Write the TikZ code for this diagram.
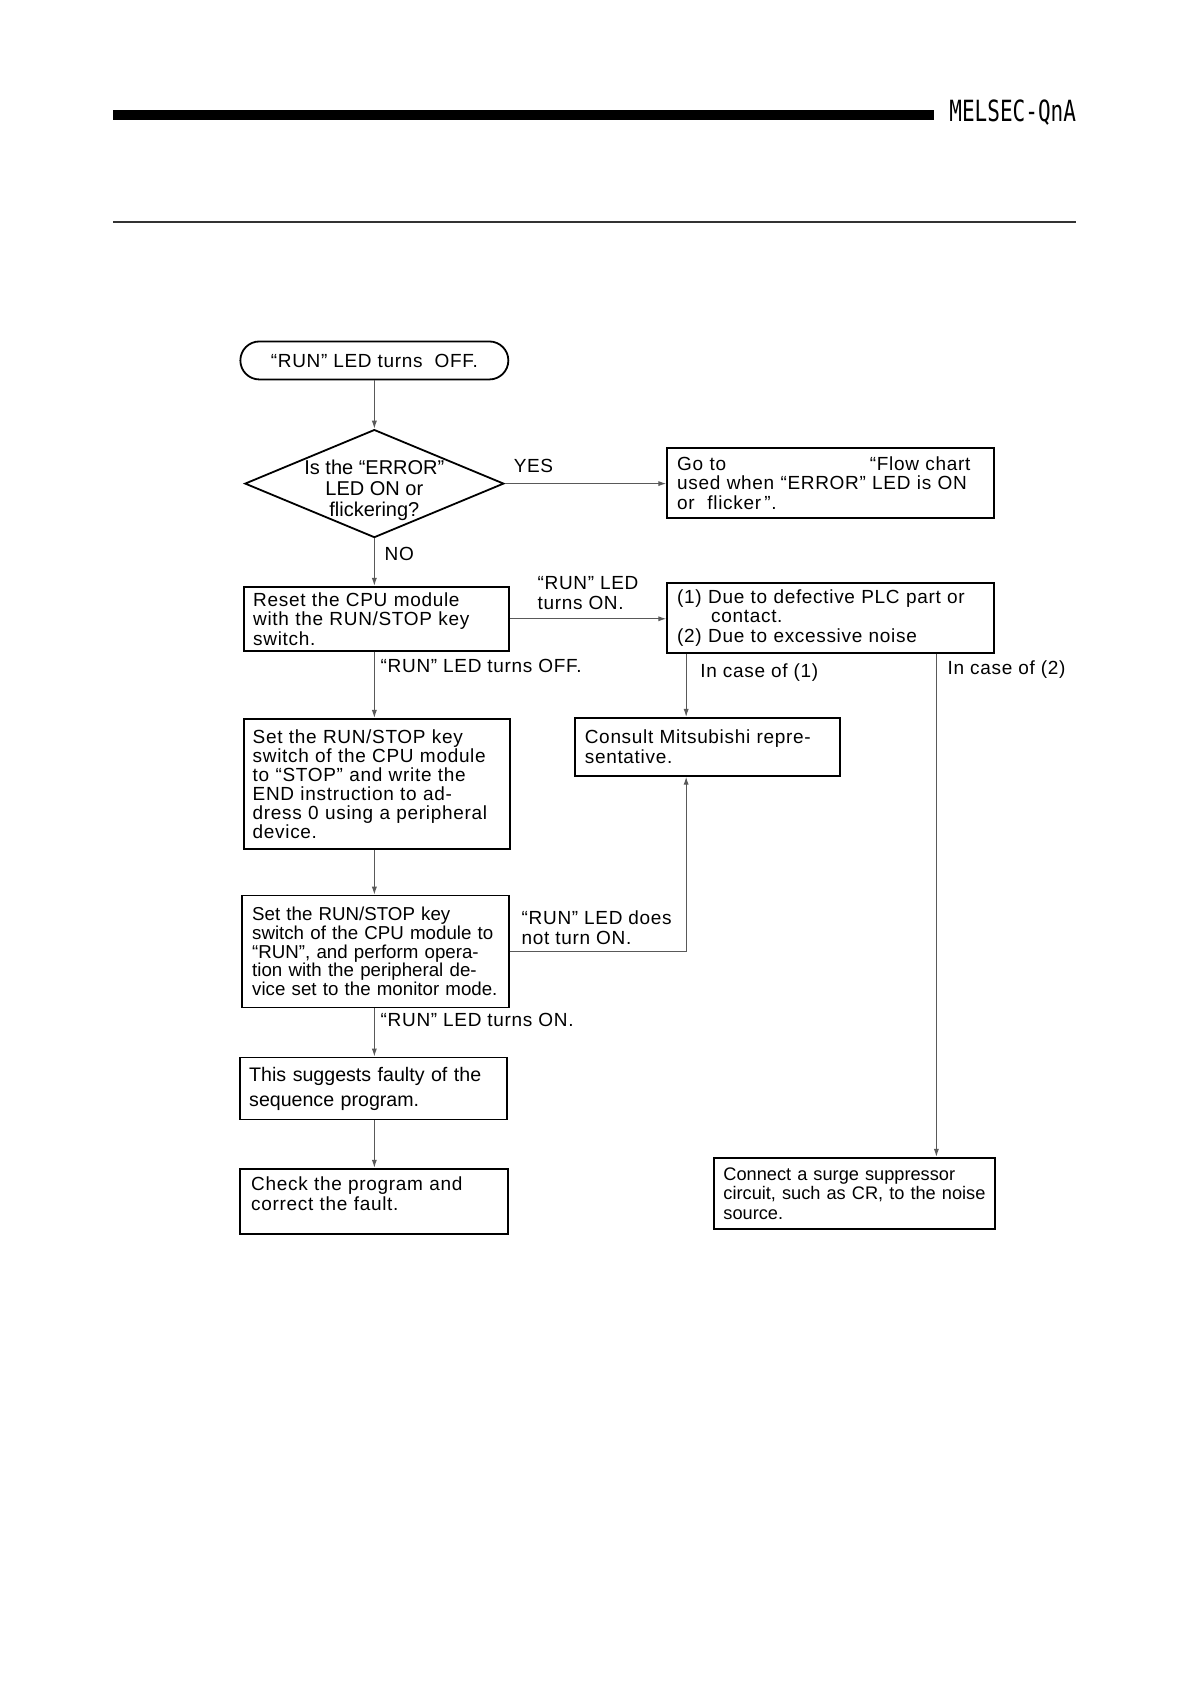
\documentclass[tikz,border=0pt]{standalone}
\usepackage{fontspec}
\setmainfont{Liberation Sans}
\newfontfamily\widefam[LetterSpace=3.6]{Liberation Sans}
\newfontfamily\hdrfam{DejaVu Sans Mono}
\usepackage{graphicx}
\usetikzlibrary{shapes.geometric,arrows.meta}
\newcommand{\wf}{\widefam\fontsize{9.5}{9.75}\selectfont}
\newcommand{\narrowf}[2]{\rmfamily\fontsize{#1}{#2}\selectfont}
\tikzset{
  box/.style={draw, line width=0.9pt, anchor=north west, align=left, inner ysep=0pt, inner xsep=4.5pt},
  conn/.style={draw=black!65, line width=0.55pt, -{Latex[length=4pt,width=2.6pt]}},
  lbl/.style={anchor=west, inner sep=0pt, align=left, font=\wf}
}
\begin{document}
\begin{tikzpicture}[x=0.4965pt,y=-0.4965pt]
\useasboundingbox (0,0) rectangle (1198.4,1695.9);
% header
\fill (114,111) rectangle (941,121);
\draw[line width=1pt, black!80] (114,224) -- (1084,224);
\node[anchor=base east, inner sep=0pt] (hdr) at (1084,122) {\scalebox{0.72}[1]{\hdrfam\fontsize{14.6}{15}\selectfont MELSEC-QnA}};
% nodes
\node[draw, line width=0.9pt, rounded corners=9.5pt, minimum width=134pt, minimum height=19pt, inner sep=0pt, font=\wf] (term) at (377,363) {“RUN” LED turns\ \ OFF.};
\node[diamond, draw, line width=0.9pt, minimum width=129.5pt, minimum height=54pt, inner sep=0pt] (dec) at (377,487)
  {\makebox[0pt]{\smash{\raisebox{-6.4pt}{\narrowf{10}{10.5}\begin{tabular}{@{}c@{}}Is the “ERROR”\\LED ON or\\flickering?\end{tabular}}}}};
\node[box, inner xsep=5pt, text width=153.5pt, minimum height=35pt, font=\wf] (goto) at (671,450)
  {Go to\hspace*{71.9pt}“Flow chart\\used when “ERROR” LED is ON\\or\ \ flicker\,”.};
\node[box, inner xsep=4.5pt, text width=123.5pt, minimum height=32pt, font=\wf] (reset) at (245,590)
  {Reset the CPU module\\with the RUN/STOP key\\switch.};
\node[box, inner xsep=5pt, text width=153.5pt, minimum height=35pt, font=\wf] (cause) at (671,586)
  {(1) Due to defective PLC part or\\\hspace*{17pt}contact.\\(2) Due to excessive noise};
\node[box, inner xsep=4.5pt, text width=124pt, minimum height=65pt, font={\widefam\fontsize{9.5}{9.5}\selectfont}] (setstop) at (244.5,723)
  {Set the RUN/STOP key\\switch of the CPU module\\to “STOP” and write the\\END instruction to ad-\\dress 0 using a peripheral\\device.};
\node[box, inner xsep=5pt, text width=122.5pt, minimum height=29pt, font=\wf] (consult) at (578,722)
  {Consult Mitsubishi repre-\\sentative.};
\node[box, inner xsep=5pt, text width=123.5pt, minimum height=56pt, font={\narrowf{9.35}{9.35}}] (setrun) at (243,901)
  {Set the RUN/STOP key\\switch of the CPU module to\\“RUN”, and perform opera-\\tion with the peripheral de-\\vice set to the monitor mode.};
\node[box, inner xsep=4.5pt, text width=124.5pt, minimum height=31pt, font={\narrowf{9.8}{12.5}}] (suggest) at (241,1064)
  {This suggests faulty of the\\sequence program.};
\node[box, inner xsep=5.5pt, text width=123pt, minimum height=32.5pt, font=\wf] (check) at (241,1176)
  {Check the program and\\correct the fault.\par\vspace{-2pt}\hbox{}};
\node[box, inner xsep=4.8pt, text width=131pt, minimum height=35.5pt, font={\narrowf{9.1}{9.75}}] (surge) at (718,1165)
  {Connect a surge suppressor\\circuit, such as CR, to the noise\\source.};
% labels
\node[lbl] (yes) at (517,469) {YES};
\node[lbl] (no) at (387,558) {NO};
\node[lbl] (l1) at (541,597) {“RUN” LED\\turns ON.};
\node[lbl] (l2) at (383,671) {“RUN” LED turns OFF.};
\node[lbl] (l3) at (705,677) {In case of (1)};
\node[lbl] (l4) at (954,674) {In case of (2)};
\node[lbl] (l5) at (525,934) {“RUN” LED does\\not turn ON.};
\node[lbl] (l6) at (383,1027) {“RUN” LED turns ON.};
% connectors
\coordinate (c0) at (377,0);
\coordinate (c1) at (691,0);
\coordinate (c2) at (943,0);
\draw[conn] (c0 |- term.south) -- (dec.north);
\draw[conn] (dec.east) -- (dec.east -| goto.west);
\draw[conn] (dec.south) -- (c0 |- reset.north);
\draw[conn] (reset.east) -- (reset.east -| cause.west);
\draw[conn] (c0 |- reset.south) -- (c0 |- setstop.north);
\draw[conn] (c0 |- setstop.south) -- (c0 |- setrun.north);
\draw[conn] (setrun.east) -- (setrun.east -| c1) -- (c1 |- consult.south);
\draw[conn] (c1 |- cause.south) -- (c1 |- consult.north);
\draw[conn] (c2 |- cause.south) -- (c2 |- surge.north);
\draw[conn] (c0 |- setrun.south) -- (c0 |- suggest.north);
\draw[conn] (c0 |- suggest.south) -- (c0 |- check.north);
\end{tikzpicture}
\end{document}
